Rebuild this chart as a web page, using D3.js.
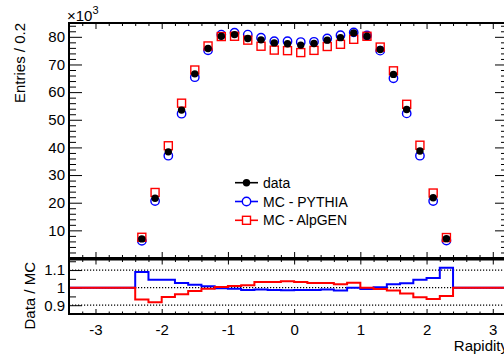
<!DOCTYPE html>
<html><head><meta charset="utf-8">
<script src="https://cdn.jsdelivr.net/npm/d3@7"></script>
<style>
body{margin:0;background:#fff}
svg{display:block}
text{font-family:"Liberation Sans",Arial,Helvetica,sans-serif;fill:#000}
</style>
</head><body>
<svg id="c" width="504" height="356"></svg>
<script>
// ---- data (entries in thousands, bin width 0.2) ----
const rapidity   = [-2.3,-2.1,-1.9,-1.7,-1.5,-1.3,-1.1,-0.9,-0.7,-0.5,-0.3,-0.1,0.1,0.3,0.5,0.7,0.9,1.1,1.3,1.5,1.7,1.9,2.1,2.3];
const dataVals   = [6.9,21.6,38.4,53.5,66.6,75.8,80.2,80.8,79.4,78.9,77.8,77.5,77.0,77.6,78.8,79.7,81.4,80.2,75.4,66.4,53.7,38.7,21.8,7.0];
const pythiaVals = [6.2,20.6,37.0,52.2,65.4,75.1,80.8,81.5,80.8,79.7,78.4,78.4,78.1,78.2,79.4,80.6,81.6,80.5,75.0,65.0,52.3,37.0,20.6,6.3];
const alpgenVals = [7.5,23.7,40.6,56.0,68.0,76.7,80.1,80.2,78.8,76.6,75.2,75.0,74.3,75.1,76.5,77.3,79.1,80.2,76.3,67.7,55.6,40.8,23.5,7.4];
const ratioPythia = [1.089,1.045,1.045,1.026,1.017,1.008,0.996,0.994,0.987,0.990,0.987,0.985,0.987,0.987,0.990,0.983,1.000,0.992,1.002,1.019,1.025,1.045,1.055,1.113];
const ratioAlpgen = [0.932,0.917,0.947,0.962,0.981,0.994,1.004,1.009,1.013,1.032,1.032,1.036,1.032,1.026,1.026,1.019,1.028,1.000,0.992,0.983,0.966,0.945,0.936,0.953];
const xTickLabels = [-3,-2,-1,0,1,2,3];
const yTickLabels = [10,20,30,40,50,60,70,80];
const ratioTickLabels = [0.9,1,1.1];
const legendLabels = ["data","MC - PYTHIA","MC - AlpGEN"];
const binWidth = 0.2;

// ---- layout ----
const L = 69, R = 508, T = 23, B = 258, RT = 259.5, RB = 314;
const svg = d3.select("#c");
const x  = d3.scaleLinear().domain([-3.4, 3.23]).range([L, R]);
const y  = d3.scaleLinear().domain([0, 85]).range([B, T]);
const yr = d3.scaleLinear().domain([0.85, 1.16]).range([RB, RT]);

const BLUE = "#0000ff", RED = "#ff0000";

function axisG(axis, tx, ty){
  const g = svg.append("g").attr("transform",`translate(${tx},${ty})`).call(axis);
  g.select(".domain").remove();
  g.selectAll("line").attr("stroke","#000").attr("stroke-width",1);
  g.selectAll("text").style("font-size","15px").attr("fill","#000");
  return g;
}
const xMinor = d3.range(-3.4, 3.25, 0.2).map(v=>+v.toFixed(1)).filter(v=>Math.abs(v-Math.round(v))>1e-6);
const yMinor = d3.range(2, 85, 2).filter(v=>v%10!==0);

// ---- main panel axes ----
axisG(d3.axisLeft(y).tickValues(yTickLabels).tickSize(-13).tickSizeOuter(0).tickPadding(4), L, 0);
axisG(d3.axisLeft(y).tickValues(yMinor).tickSize(-7).tickFormat(""), L, 0);
axisG(d3.axisRight(y).tickValues(yTickLabels).tickSize(-13).tickFormat(""), R, 0);
axisG(d3.axisRight(y).tickValues(yMinor).tickSize(-7).tickFormat(""), R, 0);
axisG(d3.axisBottom(x).tickValues(xTickLabels).tickSize(-6).tickFormat(""), 0, B);
axisG(d3.axisBottom(x).tickValues(xMinor).tickSize(-3).tickFormat(""), 0, B);
axisG(d3.axisTop(x).tickValues(xTickLabels).tickSize(-6).tickFormat(""), 0, T);
axisG(d3.axisTop(x).tickValues(xMinor).tickSize(-3).tickFormat(""), 0, T);

// ---- ratio panel axes ----
axisG(d3.axisLeft(yr).tickValues(ratioTickLabels).tickSize(-13).tickPadding(4).tickFormat(d3.format("")), L, 0);
axisG(d3.axisLeft(yr).tickValues([0.95,1.05,1.15]).tickSize(-7).tickFormat(""), L, 0);
axisG(d3.axisBottom(x).tickValues(xTickLabels).tickSize(-5).tickPadding(10).tickFormat(d=>d<0?"-"+Math.abs(d):d), 0, RB);
axisG(d3.axisBottom(x).tickValues(xMinor).tickSize(-2.5).tickFormat(""), 0, RB);
axisG(d3.axisTop(x).tickValues(xTickLabels).tickSize(-5).tickFormat(""), 0, RT);
axisG(d3.axisTop(x).tickValues(xMinor).tickSize(-2.5).tickFormat(""), 0, RT);

// ratio grid lines
svg.append("g").selectAll("line").data(ratioTickLabels).join("line")
  .attr("x1",L).attr("x2",R).attr("y1",d=>yr(d)).attr("y2",d=>yr(d))
  .attr("stroke","#000").attr("stroke-width",1.2).attr("stroke-dasharray","1.2,1.8");

// ratio step histograms
function stepPts(ratio){
  const pts = [[x.domain()[0],1]];
  rapidity.forEach((c,i)=>pts.push([c-binWidth/2, ratio[i]]));
  pts.push([rapidity[rapidity.length-1]+binWidth/2, 1]);
  pts.push([x.domain()[1], 1]);
  return pts;
}
const stepLine = d3.line().x(d=>x(d[0])).y(d=>yr(d[1])).curve(d3.curveStepAfter);
svg.append("path").attr("d",stepLine(stepPts(ratioPythia))).attr("fill","none").attr("stroke",BLUE).attr("stroke-width",2);
svg.append("path").attr("d",stepLine(stepPts(ratioAlpgen))).attr("fill","none").attr("stroke",RED).attr("stroke-width",2);

// frames
svg.append("rect").attr("x",L).attr("y",T).attr("width",R-L).attr("height",B-T)
  .attr("fill","none").attr("stroke","#000").attr("stroke-width",2);
svg.append("rect").attr("x",L).attr("y",RT).attr("width",R-L).attr("height",RB-RT)
  .attr("fill","none").attr("stroke","#000").attr("stroke-width",2);

// ---- markers ----
const mk = svg.append("g");
mk.selectAll("circle.py").data(pythiaVals).join("circle").attr("class","py")
  .attr("cx",(d,i)=>x(rapidity[i])).attr("cy",d=>y(d)).attr("r",4.2)
  .attr("fill","none").attr("stroke",BLUE).attr("stroke-width",1.4);
mk.selectAll("rect.ag").data(alpgenVals).join("rect").attr("class","ag")
  .attr("x",(d,i)=>x(rapidity[i])-4).attr("y",d=>y(d)-4).attr("width",8).attr("height",8)
  .attr("fill","none").attr("stroke",RED).attr("stroke-width",1.4);
mk.selectAll("circle.dt").data(dataVals).join("circle").attr("class","dt")
  .attr("cx",(d,i)=>x(rapidity[i])).attr("cy",d=>y(d)).attr("r",3.7).attr("fill","#000");

// ---- legend ----
const legColors = ["#000", BLUE, RED];
const leg = svg.append("g");
legendLabels.forEach((lab,i)=>{
  const cy = 182.7 + i*18.8;
  leg.append("line").attr("x1",235).attr("x2",258).attr("y1",cy).attr("y2",cy)
    .attr("stroke",legColors[i]).attr("stroke-width",1.6);
  if(i===0) leg.append("circle").attr("cx",246.5).attr("cy",cy).attr("r",3.7).attr("fill","#000");
  if(i===1) leg.append("circle").attr("cx",246.5).attr("cy",cy).attr("r",4.2).attr("fill","#fff").attr("stroke",BLUE).attr("stroke-width",1.4);
  if(i===2) leg.append("rect").attr("x",242.5).attr("y",cy-4).attr("width",8).attr("height",8).attr("fill","#fff").attr("stroke",RED).attr("stroke-width",1.4);
  leg.append("text").attr("x",263).attr("y",cy).attr("dy","0.36em").style("font-size","14px").text(lab);
});

// ---- titles ----
svg.append("text").attr("transform","translate(25,23) rotate(-90)").attr("text-anchor","end")
  .style("font-size","15px").text("Entries / 0.2");
svg.append("text").attr("transform","translate(35,262) rotate(-90)").attr("text-anchor","end")
  .style("font-size","15px").text("Data / MC");
svg.append("text").attr("x",508).attr("y",351).attr("text-anchor","end")
  .style("font-size","15px").text("Rapidity");
const ex = svg.append("text").attr("x",67).attr("y",21).style("font-size","15px");
ex.append("tspan").text("×10");
ex.append("tspan").attr("dy",-7).style("font-size","11px").text("3");
</script>
</body></html>
